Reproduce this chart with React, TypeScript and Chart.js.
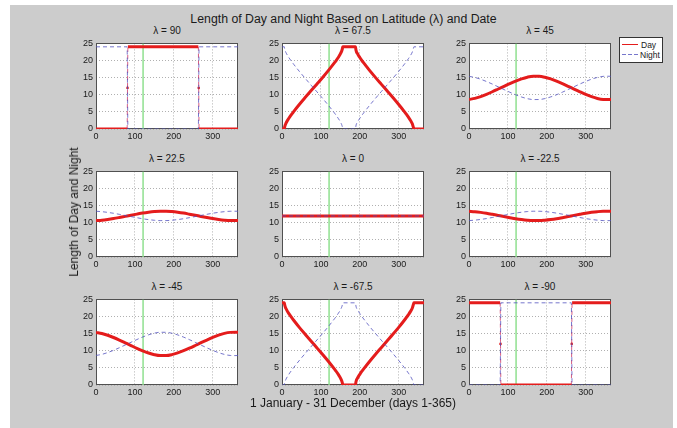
import React, { useEffect, useRef } from 'react';
import { Chart, registerables } from 'chart.js';

Chart.register(...registerables);

// ---------- data (hours of daylight / night) ----------
const DAYS = [0, 15, 30, 45, 60, 75, 90, 105, 120, 135, 150, 165, 180, 195, 210, 225, 240, 255, 270, 285, 300, 315, 330, 345, 360, 365];

const DAY_45 = [8.63, 8.94, 9.47, 10.13, 10.88, 11.68, 12.48, 13.27, 14.01, 14.65, 15.14, 15.4, 15.39, 15.12, 14.63, 13.99, 13.25, 12.46, 11.65, 10.86, 10.11, 9.45, 8.93, 8.63, 8.59, 8.63];
const NIGHT_45 = [15.37, 15.06, 14.53, 13.87, 13.12, 12.32, 11.52, 10.73, 9.99, 9.35, 8.86, 8.6, 8.61, 8.88, 9.37, 10.01, 10.75, 11.54, 12.35, 13.14, 13.89, 14.55, 15.07, 15.37, 15.41, 15.37];

const DAY_22 = [10.64, 10.76, 10.97, 11.23, 11.54, 11.87, 12.2, 12.52, 12.83, 13.08, 13.27, 13.37, 13.37, 13.26, 13.07, 12.82, 12.51, 12.19, 11.85, 11.53, 11.22, 10.96, 10.76, 10.64, 10.63, 10.64];
const NIGHT_22 = [13.36, 13.24, 13.03, 12.77, 12.46, 12.13, 11.8, 11.48, 11.17, 10.92, 10.73, 10.63, 10.63, 10.74, 10.93, 11.18, 11.49, 11.81, 12.15, 12.47, 12.78, 13.04, 13.24, 13.36, 13.37, 13.36];

const DAY_0 = [12, 12, 12, 12, 12, 12, 12, 12, 12, 12, 12, 12, 12, 12, 12, 12, 12, 12, 12, 12, 12, 12, 12, 12, 12, 12];
const NIGHT_0 = [12, 12, 12, 12, 12, 12, 12, 12, 12, 12, 12, 12, 12, 12, 12, 12, 12, 12, 12, 12, 12, 12, 12, 12, 12, 12];

const DAYS_67 = [0, 6, 7, 10, 15, 20, 25, 30, 45, 60, 75, 90, 105, 120, 135, 140, 145, 150, 155, 156, 189, 190, 195, 200, 205, 210, 225, 240, 255, 270, 285, 300, 315, 320, 325, 330, 335, 338, 339, 365];
const DAY_67 = [0, 0, 0.67, 1.64, 2.66, 3.54, 4.33, 5.09, 7.23, 9.25, 11.22, 13.17, 15.14, 17.19, 19.36, 20.13, 20.97, 21.92, 23.33, 24, 24, 23.11, 21.81, 20.88, 20.05, 19.29, 17.12, 15.08, 13.11, 11.15, 9.19, 7.16, 5.01, 4.26, 3.45, 2.57, 1.51, 0.37, 0, 0];
const NIGHT_67 = [24, 24, 23.33, 22.36, 21.34, 20.46, 19.67, 18.91, 16.77, 14.75, 12.78, 10.83, 8.86, 6.81, 4.64, 3.87, 3.03, 2.08, 0.67, 0, 0, 0.89, 2.19, 3.12, 3.95, 4.71, 6.88, 8.92, 10.89, 12.85, 14.81, 16.84, 18.99, 19.74, 20.55, 21.43, 22.49, 23.63, 24, 24];

const DAYS_90 = [0, 80, 81, 82, 263, 264, 265, 365];
const DAY_90 = [0, 0, 12, 24, 24, 12, 0, 0];
const NIGHT_90 = [24, 24, 12, 0, 0, 12, 24, 24];

const MARK_DAY = 121;
const X_TICKS = [0, 100, 200, 300];
const Y_TICKS = [0, 5, 10, 15, 20, 25];
const X_MAX = 365;
const Y_MAX = 25;

const TITLE = 'Length of Day and Night Based on Latitude (\u03bb) and Date';
const X_LABEL = '1 January - 31 December (days 1-365)';
const Y_LABEL = 'Length of Day and Night';
const PANEL_TITLES = ['\u03bb = 90', '\u03bb = 67.5', '\u03bb = 45', '\u03bb = 22.5', '\u03bb = 0', '\u03bb = -22.5', '\u03bb = -45', '\u03bb = -67.5', '\u03bb = -90'];
const LEGEND = ['Day', 'Night'];

// Southern panels mirror the northern ones (day there = night here)
const PANELS = [
  { title: PANEL_TITLES[0], days: DAYS_90, day: DAY_90, night: NIGHT_90, pole: true },
  { title: PANEL_TITLES[1], days: DAYS_67, day: DAY_67, night: NIGHT_67, pole: false },
  { title: PANEL_TITLES[2], days: DAYS, day: DAY_45, night: NIGHT_45, pole: false },
  { title: PANEL_TITLES[3], days: DAYS, day: DAY_22, night: NIGHT_22, pole: false },
  { title: PANEL_TITLES[4], days: DAYS, day: DAY_0, night: NIGHT_0, pole: false },
  { title: PANEL_TITLES[5], days: DAYS, day: NIGHT_22, night: DAY_22, pole: false },
  { title: PANEL_TITLES[6], days: DAYS, day: NIGHT_45, night: DAY_45, pole: false },
  { title: PANEL_TITLES[7], days: DAYS_67, day: NIGHT_67, night: DAY_67, pole: false },
  { title: PANEL_TITLES[8], days: DAYS_90, day: NIGHT_90, night: DAY_90, pole: true },
];

// ---------- layout & style ----------
const FONT = '"Liberation Sans", Arial, Helvetica, sans-serif';
const COL_X = [96, 282, 469];
const ROW_Y = [41, 169, 297];
const PLOT_W = 142;
const PLOT_H = 88;
const AXIS_W = 30;
const AXIS_H = 16;
const PAD_T = 6;
const PAD_R = 8;

const DAY_COLOR = '#e41c1c';
const NIGHT_COLOR = 'rgba(80,80,190,0.78)';
const MARK_COLOR = '#8fe08f';
const GRID_COLOR = '#b0b0b0';
const TEXT_COLOR = '#1a1a1a';

const boxPlugin = {
  id: 'matlabBox',
  beforeDraw(chart: any) {
    const { ctx, chartArea: a } = chart;
    ctx.save();
    ctx.fillStyle = '#ffffff';
    ctx.fillRect(a.left, a.top, a.right - a.left, a.bottom - a.top);
    ctx.restore();
  },
  beforeDatasetsDraw(chart: any) {
    const { ctx, chartArea: a } = chart;
    ctx.save();
    ctx.strokeStyle = '#505050';
    ctx.lineWidth = 1;
    ctx.strokeRect(Math.round(a.left) + 0.5, Math.round(a.top) + 0.5, Math.round(a.right - a.left) - 1, Math.round(a.bottom - a.top) - 1);
    ctx.restore();
  },
};

type PanelDef = { title: string; days: number[]; day: number[]; night: number[]; pole: boolean };

const isJump = (ctx: any) => {
  const a = ctx.p0.parsed;
  const b = ctx.p1.parsed;
  return Math.abs(b.y - a.y) > 5 * Math.abs(b.x - a.x);
};

function Panel({ p, left, top }: { p: PanelDef; left: number; top: number }) {
  const ref = useRef<HTMLCanvasElement>(null);
  const w = AXIS_W + PLOT_W + PAD_R;
  const h = PAD_T + PLOT_H + AXIS_H;
  useEffect(() => {
    const pts = (ys: number[]) => p.days.map((d, i) => ({ x: d, y: ys[i] }));
    const tickFont = { family: FONT, size: 9 };
    const chart = new Chart(ref.current as HTMLCanvasElement, {
      type: 'line',
      data: {
        datasets: [
          {
            label: LEGEND[1],
            data: pts(p.night),
            borderColor: NIGHT_COLOR,
            borderWidth: 1,
            borderDash: [4, 3],
            pointRadius: 0,
            order: 0,
            cubicInterpolationMode: 'monotone',
          },
          {
            label: LEGEND[0],
            data: pts(p.day),
            borderColor: DAY_COLOR,
            backgroundColor: DAY_COLOR,
            borderWidth: 3,
            pointRadius: p.pole ? p.day.map((v) => (v === 12 ? 1.3 : 0)) : 0,
            pointBorderWidth: 0,
            pointBackgroundColor: DAY_COLOR,
            order: 1,
            cubicInterpolationMode: 'monotone',
            segment: {
              borderWidth: (ctx: any) => (isJump(ctx) ? 1 : undefined),
              borderDash: (ctx: any) => (isJump(ctx) ? [4, 3] : undefined),
              borderColor: (ctx: any) => (isJump(ctx) ? 'rgba(200,40,90,0.75)' : undefined),
            },
          },
          {
            label: 'mark',
            data: [
              { x: MARK_DAY, y: 0 },
              { x: MARK_DAY, y: Y_MAX },
            ],
            borderColor: MARK_COLOR,
            borderWidth: 1.5,
            pointRadius: 0,
            order: 2,
          },
        ],
      } as any,
      options: {
        animation: false,
        responsive: false,
        events: [],
        layout: { padding: { top: PAD_T, right: PAD_R, left: 0, bottom: 0 } },
        plugins: { legend: { display: false }, tooltip: { enabled: false }, title: { display: false } },
        scales: {
          x: {
            type: 'linear',
            min: 0,
            max: X_MAX,
            afterBuildTicks: (s: any) => {
              s.ticks = X_TICKS.map((v) => ({ value: v }));
            },
            afterFit: (s: any) => {
              s.height = AXIS_H;
            },
            ticks: { font: tickFont, color: TEXT_COLOR, padding: 2, maxRotation: 0, autoSkip: false },
            grid: { color: GRID_COLOR, drawTicks: false, lineWidth: 1 },
            border: { display: false, dash: [1, 2] },
          },
          y: {
            type: 'linear',
            min: 0,
            max: Y_MAX,
            afterBuildTicks: (s: any) => {
              s.ticks = Y_TICKS.map((v) => ({ value: v }));
            },
            afterFit: (s: any) => {
              s.width = AXIS_W;
            },
            ticks: { font: tickFont, color: TEXT_COLOR, padding: 3, autoSkip: false },
            grid: { color: GRID_COLOR, drawTicks: false, lineWidth: 1 },
            border: { display: false, dash: [1, 2] },
          },
        },
      } as any,
      plugins: [boxPlugin],
    });
    return () => chart.destroy();
  }, []);
  return (
    <canvas
      ref={ref}
      width={w}
      height={h}
      style={{ position: 'absolute', left: left - AXIS_W, top: top - PAD_T, width: w, height: h }}
    />
  );
}

function Text({ x, y, size, children, rotate }: { x: number; y: number; size: number; children: any; rotate?: boolean }) {
  return (
    <div
      style={{
        position: 'absolute',
        left: x,
        top: y,
        transform: `translate(-50%, -50%)${rotate ? ' rotate(-90deg)' : ''}`,
        whiteSpace: 'nowrap',
        fontFamily: FONT,
        fontSize: size,
        lineHeight: 1,
        color: TEXT_COLOR,
      }}
    >
      {children}
    </div>
  );
}

export default function App() {
  return (
    <div style={{ position: 'absolute', left: 0, top: 0, width: 677, height: 428, background: '#ffffff', overflow: 'hidden' }}>
      <div style={{ position: 'absolute', left: 10, top: 5, width: 663, height: 423, background: '#cccccc' }} />
      <Text x={343.5} y={19} size={12.3}>{TITLE}</Text>
      {PANELS.map((p, i) => {
        const left = COL_X[i % 3];
        const top = ROW_Y[Math.floor(i / 3)];
        return (
          <React.Fragment key={i}>
            <Text x={left + PLOT_W / 2} y={top - 10} size={10}>{p.title}</Text>
            <Panel p={p} left={left} top={top} />
          </React.Fragment>
        );
      })}
      <Text x={74} y={212} size={12} rotate>{Y_LABEL}</Text>
      <Text x={353} y={402.5} size={12}>{X_LABEL}</Text>
      <svg
        width={44}
        height={26}
        style={{ position: 'absolute', left: 619, top: 37 }}
      >
        <rect x={0.5} y={0.5} width={43} height={25} fill="#ffffff" stroke="#333333" strokeWidth={1} />
        <line x1={3} y1={7.5} x2={19} y2={7.5} stroke={DAY_COLOR} strokeWidth={1} />
        <line x1={3} y1={17.5} x2={19} y2={17.5} stroke={NIGHT_COLOR} strokeWidth={1} strokeDasharray="4 2" />
        <text x={22} y={10.5} fontFamily={FONT} fontSize={8.5} fill={TEXT_COLOR}>{LEGEND[0]}</text>
        <text x={21} y={20.5} fontFamily={FONT} fontSize={8.5} fill={TEXT_COLOR}>{LEGEND[1]}</text>
      </svg>
    </div>
  );
}
